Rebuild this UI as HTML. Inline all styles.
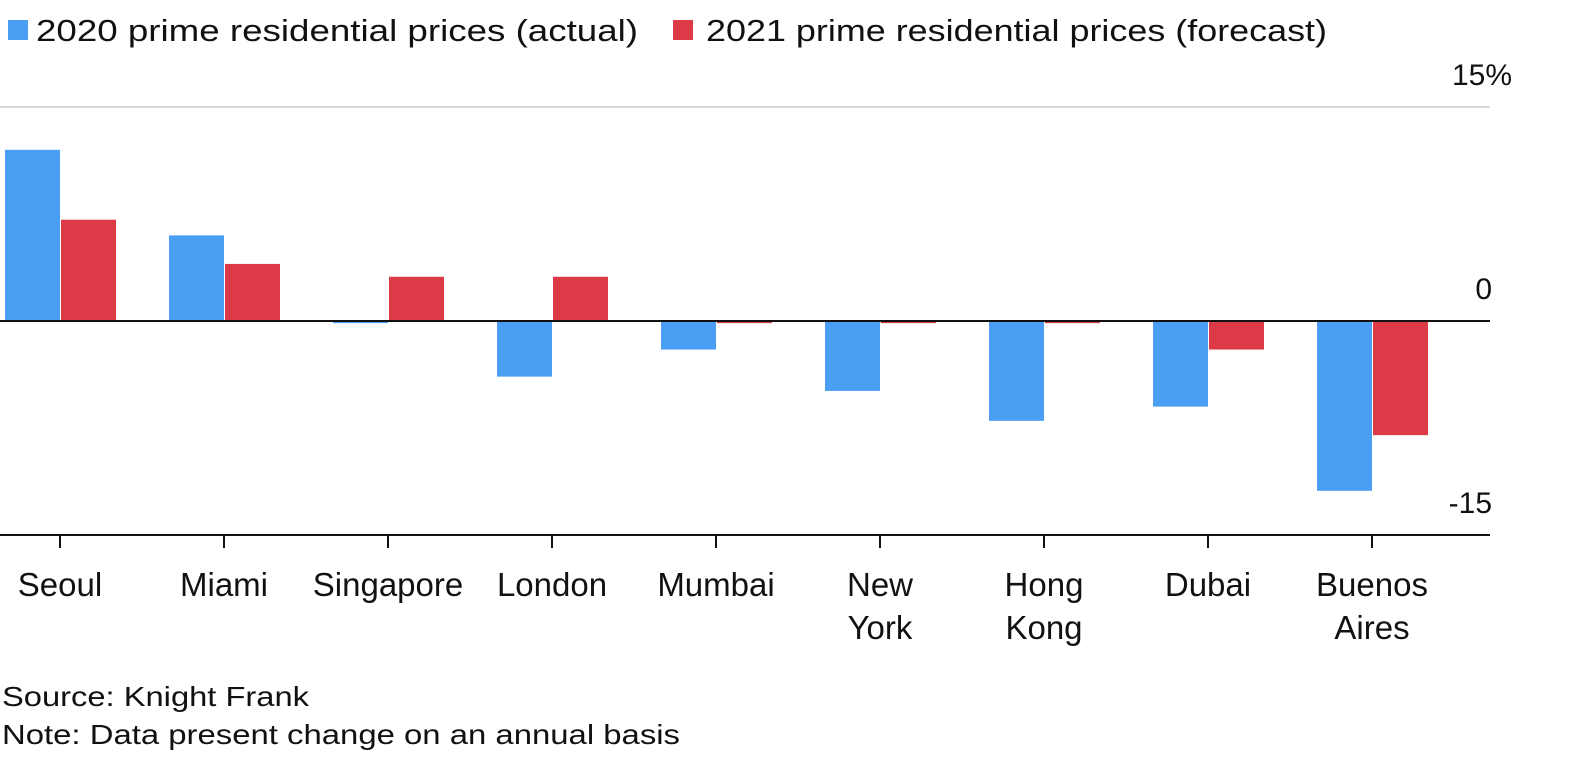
<!DOCTYPE html>
<html><head><meta charset="utf-8"><style>
body{margin:0;background:#fff;font-family:"Liberation Sans",sans-serif;}
svg{display:block}
</style></head><body>
<svg width="1596" height="782">
<g>
<rect x="8" y="20" width="20" height="20" fill="#4a9ff5"/>
<text x="36" y="41" font-size="31" textLength="602" lengthAdjust="spacingAndGlyphs" fill="#111">2020 prime residential prices (actual)</text>
<rect x="673" y="20" width="20" height="20" fill="#dc3a46"/>
<text x="706" y="41" font-size="31" textLength="621" lengthAdjust="spacingAndGlyphs" fill="#111">2021 prime residential prices (forecast)</text>
</g>
<g id="plot"></g>
<text x="2" y="706" font-size="28" textLength="307" lengthAdjust="spacingAndGlyphs" fill="#111">Source: Knight Frank</text>
<text x="2" y="744" font-size="28" textLength="678" lengthAdjust="spacingAndGlyphs" fill="#111">Note: Data present change on an annual basis</text>
</svg>
<script>
const categories=[["Seoul"],["Miami"],["Singapore"],["London"],["Mumbai"],["New","York"],["Hong","Kong"],["Dubai"],["Buenos","Aires"]];
const actual2020=[12,6,-0.15,-3.9,-2,-4.9,-7,-6,-11.9];
const forecast2021=[7.1,4,3.1,3.1,-0.15,-0.15,-0.15,-2,-8];
const yTicks=[15,0,-15];
const yTickLabels=["15%","0","-15"];
const NS="http://www.w3.org/2000/svg";
const g=document.getElementById('plot');
const y0=321,ppu=214/15;
function y(v){return y0-v*ppu;}
function x(i){return 60+i*164;}
function el(t,a){const e=document.createElementNS(NS,t);for(const k in a)e.setAttribute(k,a[k]);g.appendChild(e);return e;}
let gl=el('line',{x1:0,x2:1490,y1:y(15),y2:y(15),stroke:'#d9d9d9','stroke-width':2});


yTicks.forEach((t,i)=>{
 const lab=yTickLabels[i];
 const pct=lab.endsWith('%');
 const tx=el('text',{x:pct?1452:1492,y:y(t)-22,'font-size':30,'text-anchor':pct?'start':'end',fill:'#111'});
 tx.textContent=lab;
 
 
});
categories.forEach((c,i)=>{
 const a=actual2020[i],f=forecast2021[i];
 const b1=el('rect',{x:x(i)-55,y:Math.min(y(a),y0),width:55,height:Math.abs(y(a)-y0),fill:'#4a9ff5'});
 
 
 const b2=el('rect',{x:x(i)+1,y:Math.min(y(f),y0),width:55,height:Math.abs(y(f)-y0),fill:'#dc3a46'});
 
 
 const tk=el('line',{x1:x(i),x2:x(i),y1:535,y2:548,stroke:'#111','stroke-width':2});
 
 
 c.forEach((w,j)=>{
  const t=el('text',{x:x(i),y:596+j*43,'font-size':33,'text-anchor':'middle',fill:'#111'});
  t.textContent=w;
  
  
 });
});
const zl=el('line',{x1:0,x2:1490,y1:y0,y2:y0,stroke:'#111','stroke-width':2});


const ax=el('line',{x1:0,x2:1490,y1:535,y2:535,stroke:'#111','stroke-width':2});


</script>
</body></html>
